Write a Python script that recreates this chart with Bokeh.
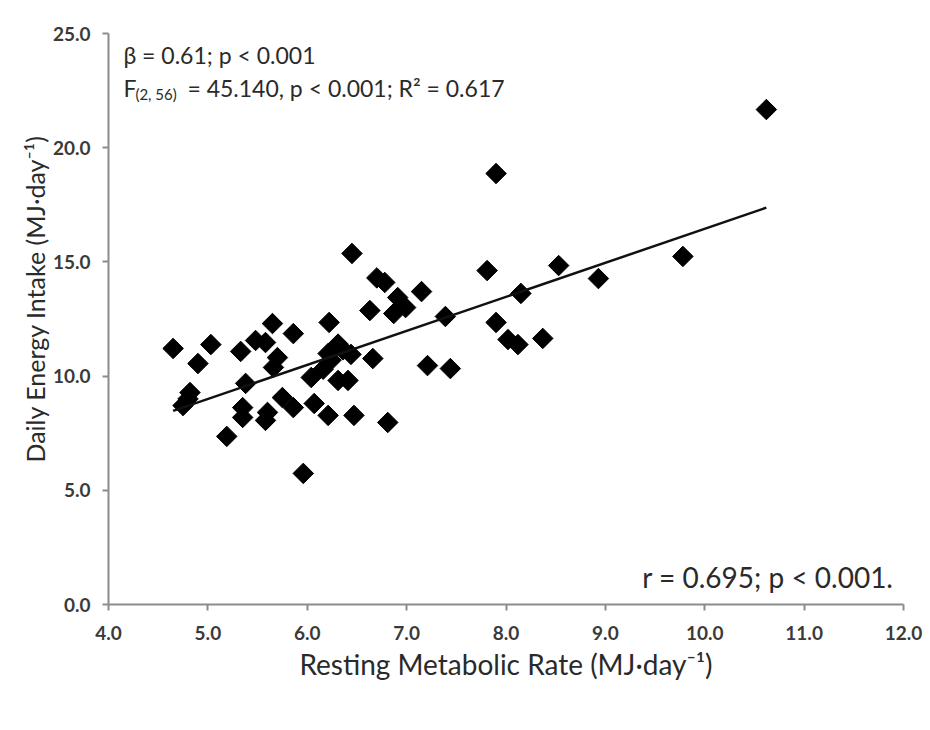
from bokeh.plotting import figure
from bokeh.models import ColumnDataSource, Label, FixedTicker, NumeralTickFormatter, Range1d, Title
from bokeh.embed import file_html
from bokeh.resources import INLINE
import numpy as np

# Resting metabolic rate (MJ/day)
rmr = [4.65, 4.90, 5.03, 4.82, 4.75, 5.33, 5.65, 5.48, 5.58, 5.86,
       5.70, 5.66, 5.38, 5.35, 5.35, 5.60, 5.58, 5.75, 5.86, 5.19,
       5.96, 6.45, 6.70, 6.78, 7.15, 6.91, 6.99, 6.87, 6.63, 7.39,
       6.22, 6.31, 6.21, 6.44, 6.66, 7.21, 7.44, 6.04, 6.16, 6.31,
       6.41, 6.07, 6.21, 6.47, 6.81, 7.81, 8.53, 8.93, 8.15, 7.90,
       8.02, 8.12, 8.37, 10.62, 7.90, 9.78, 6.24, 6.36, 4.80]
# Daily energy intake (MJ/day)
dei = [11.21, 10.55, 11.38, 9.28, 8.71, 11.08, 12.30, 11.56, 11.47, 11.86,
       10.81, 10.38, 9.68, 8.62, 8.19, 8.41, 8.06, 9.06, 8.62, 7.36,
       5.74, 15.37, 14.30, 14.10, 13.70, 13.44, 13.00, 12.74, 12.87, 12.61,
       12.35, 11.40, 10.99, 10.95, 10.77, 10.46, 10.33, 9.94, 10.30, 9.81,
       9.81, 8.80, 8.28, 8.28, 7.97, 14.62, 14.84, 14.27, 13.62, 12.35,
       11.60, 11.38, 11.65, 21.67, 18.87, 15.24, 10.70, 11.15, 9.00]

fit_slope = 1.49
fit_intercept = 1.55

x_ticks = [4, 5, 6, 7, 8, 9, 10, 11, 12]
y_ticks = [0, 5, 10, 15, 20, 25]

p = figure(width=924, height=714, output_backend="svg", toolbar_location=None,
           x_range=Range1d(4, 12), y_range=Range1d(0, 25),
           min_border_left=108, min_border_right=21, min_border_top=33,
           min_border_bottom=110)
p.outline_line_color = None
p.grid.grid_line_color = None
p.background_fill_color = "white"

src = ColumnDataSource(dict(x=rmr, y=dei))
p.scatter("x", "y", source=src, marker="square", angle=np.pi / 4, size=14.5,
          fill_color="black", line_color="black")

lx = [min(rmr), max(rmr)]
ly = [fit_intercept + fit_slope * v for v in lx]
p.line(lx, ly, line_color="#111111", line_width=2.5)

for ax in (p.xaxis, p.yaxis):
    ax.axis_line_color = "#8c8c8c"
    ax.axis_line_width = 2
    ax.major_tick_line_color = "#8c8c8c"
    ax.major_tick_line_width = 2
    ax.major_tick_out = 6
    ax.major_tick_in = 0
    ax.minor_tick_line_color = None
    ax.major_label_text_font = "Lato"
    ax.major_label_text_font_style = "bold"
    ax.major_label_text_font_size = "19px"
    ax.major_label_text_color = "#3a3a3a"
    ax.axis_label_text_font = "Lato"
    ax.axis_label_text_font_style = "normal"
    ax.axis_label_text_color = "#2a2a2a"

p.xaxis.ticker = FixedTicker(ticks=x_ticks)
p.yaxis.ticker = FixedTicker(ticks=y_ticks)
p.xaxis.formatter = NumeralTickFormatter(format="0.0")
p.yaxis.formatter = NumeralTickFormatter(format="0.0")
p.xaxis.major_label_standoff = 15
p.yaxis.major_label_standoff = 12
p.xaxis.axis_label = "Resting Metabolic Rate (MJ\u00b7day\u207b\u00b9)"
p.xaxis.axis_label_text_font_size = "28px"
p.xaxis.axis_label_standoff = 4

# y-axis title as a side title so it can sit a little above the frame centre
ytitle = Title(text="Daily Energy Intake (MJ\u00b7day\u207b\u00b9)", align="left",
               offset=142, standoff=0, text_font="Lato", text_font_style="normal",
               text_font_size="25px", text_color="#2a2a2a")
p.add_layout(ytitle, "left")

ann = dict(text_font="Lato", text_color="#2a2a2a", text_baseline="middle")
p.add_layout(Label(x=4.15, y=24.05, text="\u03b2 = 0.61; p < 0.001",
                   text_font_size="23px", text_align="left", **ann))
p.add_layout(Label(x=4.15, y=22.6, text="F",
                   text_font_size="23px", text_align="left", **ann))
p.add_layout(Label(x=4.15, y=22.6, x_offset=12, y_offset=-6, text="(2, 56)",
                   text_font_size="15px", text_align="left", **ann))
p.add_layout(Label(x=4.15, y=22.6, x_offset=64,
                   text="= 45.140, p < 0.001; R\u00b2 = 0.617",
                   text_font_size="23px", text_align="left", **ann))
p.add_layout(Label(x=11.9, y=1.2, text="r = 0.695; p < 0.001.",
                   text_font_size="28px", text_align="right", **ann))

open("out.html", "w").write(file_html(p, INLINE))
